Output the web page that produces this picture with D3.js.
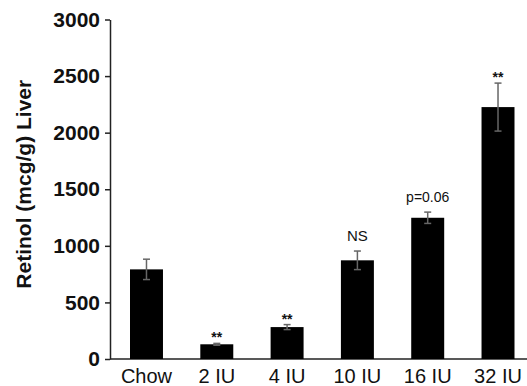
<!DOCTYPE html>
<html>
<head>
<meta charset="utf-8">
<script src="https://cdn.jsdelivr.net/npm/d3@7"></script>
<style>
    body { margin: 0; background: #fff; }
    svg { display: block; font-family: "Liberation Sans", Arial, sans-serif; }
    .axis path, .axis line { stroke: #222; stroke-width: 1.5px; }
    .axis text { fill: #111; }
    #yaxis text { font-weight: bold; font-size: 21px; }
    #xaxis text { font-size: 20px; }
</style>
</head>
<body>
<svg width="527" height="386"></svg>
<script>

/*****************************************
*   Data
*****************************************/

const groups = ['Chow', '2 IU', '4 IU', '10 IU', '16 IU', '32 IU'];
const retinol = [792, 130, 282, 872, 1248, 2226];
const sem = [90, 8, 22, 82, 50, 212];
const marks = ['', '**', '**', 'NS', 'p=0.06', '**'];
const yTicks = [0, 500, 1000, 1500, 2000, 2500, 3000];

//  SVG Placement
const SVG_WIDTH = 527;
const AXIS_X = 110;
const TOP_Y = 19.5;
const BASE_Y = 359;

var svg = d3.select('svg');

/*****************************************
*   Scales
*****************************************/

var xScale = d3.scaleBand()
    .domain(groups)
    .range([130, 514.5])
    .paddingInner(0.531)
    .paddingOuter(0);

var yScale = d3.scaleLinear()
    .domain([0, 3000])
    .range([BASE_Y, TOP_Y]);

/*****************************************
*   Axes
*****************************************/

svg.append('g')
    .attr('class', 'axis')
    .attr('id', 'yaxis')
    .attr('transform', 'translate(' + AXIS_X + ',0)')
    .call(d3.axisLeft(yScale).tickValues(yTicks).tickFormat(d3.format('d'))
        .tickSize(5).tickPadding(5).tickSizeOuter(0));

var xAxisG = svg.append('g')
    .attr('class', 'axis')
    .attr('id', 'xaxis')
    .attr('transform', 'translate(0,' + BASE_Y + ')')
    .call(d3.axisBottom(xScale).tickSize(0).tickPadding(10));
xAxisG.select('.domain').remove();
xAxisG.append('line')
    .attr('x1', AXIS_X)
    .attr('x2', SVG_WIDTH)
    .attr('y1', 0)
    .attr('y2', 0);

svg.append('text')
    .attr('transform', 'translate(31,' + ((TOP_Y + BASE_Y) / 2 - 5) + ') rotate(-90)')
    .attr('text-anchor', 'middle')
    .style('font-weight', 'bold')
    .style('font-size', '21px')
    .attr('fill', '#111')
    .text('Retinol (mcg/g) Liver');

/*****************************************
*   Bars, error bars, labels
*****************************************/

var rows = groups.map((g, i) => ({group: g, value: retinol[i], err: sem[i], mark: marks[i]}));

svg.selectAll('rect.bar')
    .data(rows)
    .enter()
      .append('rect')
      .attr('class', 'bar')
      .attr('x', d => xScale(d.group))
      .attr('width', xScale.bandwidth())
      .attr('y', d => yScale(d.value))
      .attr('height', d => yScale(0) - yScale(d.value))
      .attr('fill', '#000');

var errs = svg.selectAll('g.err')
    .data(rows)
    .enter()
      .append('g')
      .attr('class', 'err')
      .attr('stroke', '#666')
      .attr('stroke-width', 1.5)
      .attr('transform', d => 'translate(' + (xScale(d.group) + xScale.bandwidth() / 2) + ',0)');

errs.append('line')
    .attr('y1', d => yScale(d.value + d.err))
    .attr('y2', d => yScale(d.value - d.err));
errs.append('line')
    .attr('x1', -3.5).attr('x2', 3.5)
    .attr('y1', d => yScale(d.value + d.err))
    .attr('y2', d => yScale(d.value + d.err));
errs.append('line')
    .attr('x1', -3.5).attr('x2', 3.5)
    .attr('y1', d => yScale(d.value - d.err))
    .attr('y2', d => yScale(d.value - d.err));

svg.selectAll('text.mark')
    .data(rows.filter(d => d.mark != ''))
    .enter()
      .append('text')
      .attr('class', 'mark')
      .attr('text-anchor', 'middle')
      .attr('fill', '#111')
      .attr('x', d => xScale(d.group) + xScale.bandwidth() / 2)
      .attr('y', d => yScale(d.value + d.err) - (d.mark == '**' ? 1 : 10))
      .style('font-size', d => d.mark == 'NS' ? '15px' : '14px')
      .style('font-weight', d => d.mark == '**' ? 'bold' : 'normal')
      .text(d => d.mark);

</script>
</body>
</html>
